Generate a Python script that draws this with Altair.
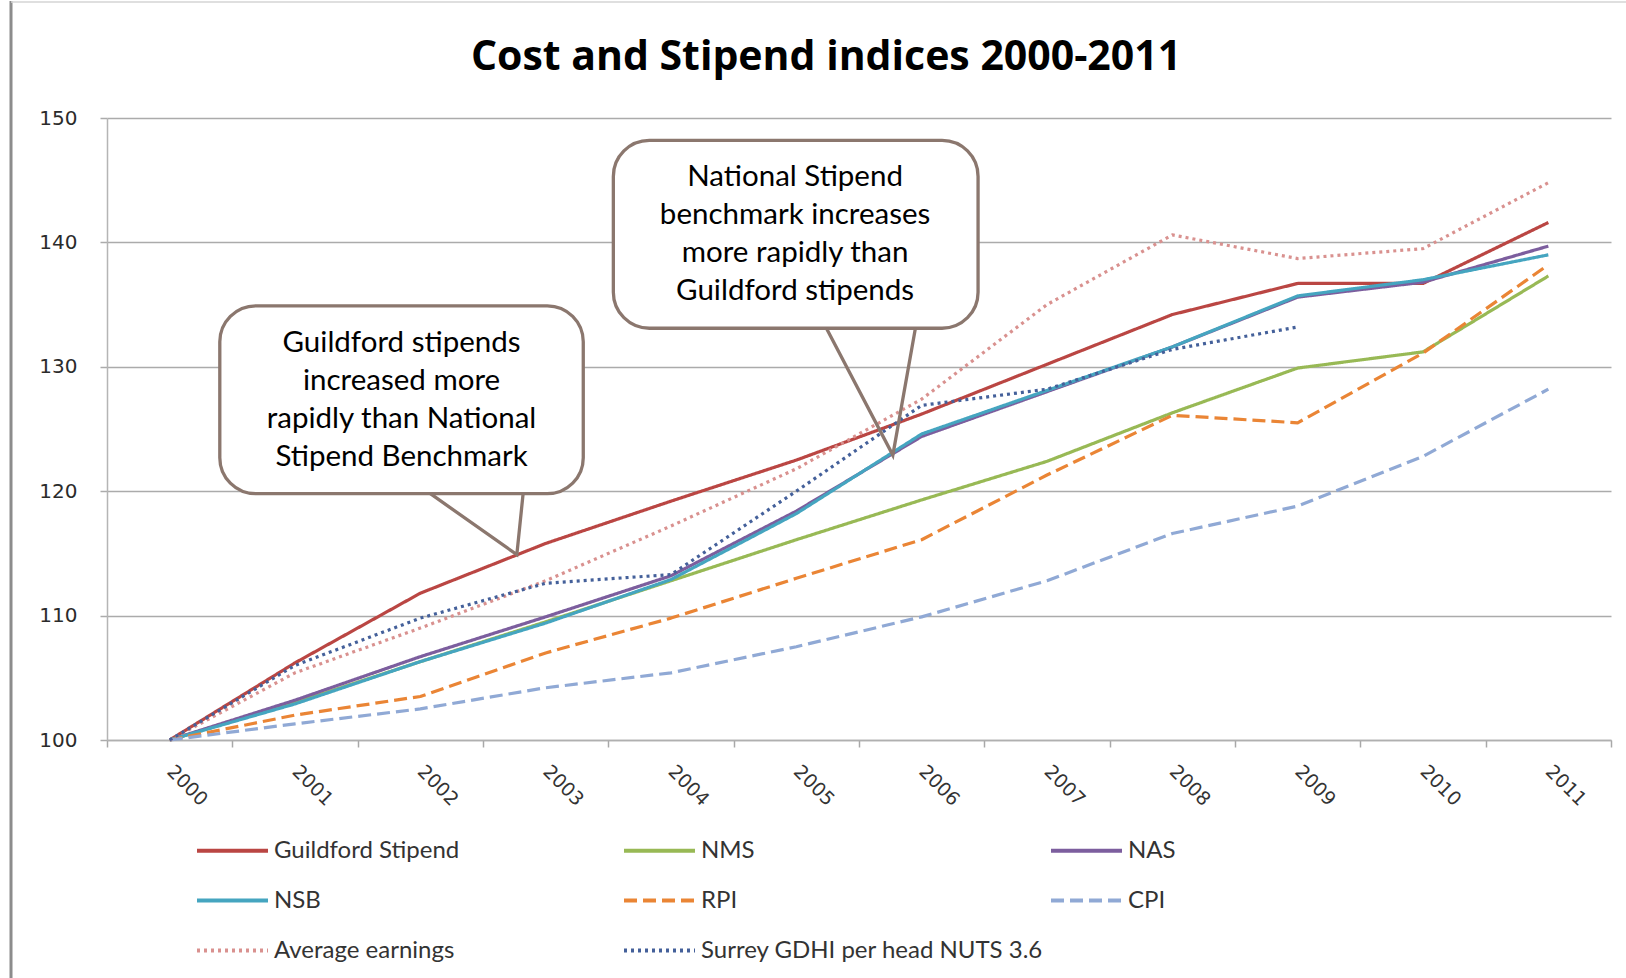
import altair as alt
import pandas as pd

# ---- data -----------------------------------------------------------------
years = [str(y) for y in range(2000, 2012)]

series_names = [
    "Guildford Stipend", "NMS", "NAS",
    "NSB", "RPI", "CPI",
    "Average earnings", "Surrey GDHI per head NUTS 3.6",
]

guildford_stipend = [100, 106.2, 111.8, 115.8, 119.2, 122.5, 126.2, 130.2, 134.2, 136.7, 136.7, 141.6]
nms = [100, 103.0, 106.3, 109.5, 112.8, 116.1, 119.3, 122.4, 126.3, 129.9, 131.2, 137.3]
nas = [100, 103.2, 106.7, 109.9, 113.2, 118.4, 124.4, 128.0, 131.6, 135.6, 136.8, 139.7]
nsb = [100, 102.9, 106.3, 109.4, 112.9, 118.2, 124.6, 128.1, 131.6, 135.7, 137.0, 139.0]
rpi = [100, 102.0, 103.5, 107.0, 109.8, 113.0, 116.1, 121.3, 126.1, 125.5, 131.1, 138.2]
cpi = [100, 101.3, 102.5, 104.2, 105.4, 107.5, 109.9, 112.8, 116.6, 118.8, 122.8, 128.2]
average_earnings = [100, 105.4, 109.0, 112.8, 117.2, 121.8, 127.4, 135.0, 140.6, 138.7, 139.5, 144.8]
surrey_gdhi = [100, 106.0, 109.8, 112.6, 113.3, 120.0, 126.9, 128.2, 131.4, 133.2]  # 2000-2009 only

series_values = [guildford_stipend, nms, nas, nsb, rpi, cpi, average_earnings, surrey_gdhi]

y_ticks = [100, 110, 120, 130, 140, 150]

callout_texts = [
    ["Guildford stipends", "increased more", "rapidly than National", "Stipend Benchmark"],
    ["National Stipend", "benchmark increases", "more rapidly than", "Guildford stipends"],
]

# ---- styling ----------------------------------------------------------------
series_colors = ["#BA4643", "#98B955", "#7C5E9E", "#45A5C0",
                 "#EA8535", "#90A9D5", "#D9918F", "#44609A"]
series_dashes = [[1, 0], [1, 0], [1, 0], [1, 0],
                 [13, 6], [13, 6], [3, 4], [3, 4]]

W, H = 1504, 622
PAD = {"left": 107, "top": 118, "right": 15, "bottom": 238}
CALLOUT_STROKE = "#8B776E"
AXIS_FONT = "DejaVu Sans"
TEXT_COLOR = "#333333"
CALLOUT_LINE_HEIGHT = 38

rows = []
for name, vals in zip(series_names, series_values):
    for yr, v in zip(years, vals):
        rows.append({"year": yr, "series": name, "value": v})
df = pd.DataFrame(rows)

legend = alt.Legend(
    title=None, orient="none", legendX=88, legendY=695,
    direction="horizontal", columns=3, gridAlign="all",
    columnPadding=-1, rowPadding=0,
    symbolType="stroke", symbolSize=5041, symbolStrokeWidth=4,
    labelFont="Lato", labelFontSize=24, labelColor=TEXT_COLOR,
    labelLimit=600, labelOffset=4, padding=0,
)

y_scale = alt.Scale(domain=[100, 150], nice=False, zero=False)

lines = alt.Chart(df).mark_line(strokeWidth=3.2, strokeCap="butt", strokeJoin="round").encode(
    x=alt.X(
        "year:O", sort=years,
        scale=alt.Scale(type="band", domain=years, paddingInner=0, paddingOuter=0),
        axis=alt.Axis(
            title=None, labelAngle=45, labelAlign="left", labelBaseline="middle",
            labelFont=AXIS_FONT, labelFontSize=19, labelColor=TEXT_COLOR,
            labelPadding=21, tickBand="extent", tickSize=7, tickColor="#a8a8a8",
            tickWidth=1.5, domainColor="#b0b0b0", domainWidth=1.5, grid=False,
            labelOverlap=False,
        ),
    ),
    y=alt.Y(
        "value:Q", scale=y_scale,
        axis=alt.Axis(
            title=None, values=y_ticks, grid=True, gridColor="#ababab", gridWidth=1.5,
            tickSize=7, tickColor="#ababab", tickWidth=1.5,
            domainColor="#b5b5b5", domainWidth=1.5,
            labelFont=AXIS_FONT, labelFontSize=20, labelColor="#2b2b2b", labelPadding=23,
        ),
    ),
    color=alt.Color("series:N", sort=series_names,
                    scale=alt.Scale(domain=series_names, range=series_colors), legend=legend),
    strokeDash=alt.StrokeDash("series:N", sort=series_names,
                              scale=alt.Scale(domain=series_names, range=series_dashes), legend=legend),
)

# ---- callouts (positions in category-index / index-value units) -------------
idx_scale = alt.Scale(domain=[-0.5, 11.5], nice=False, zero=False)

boxes = pd.DataFrame({
    "x0": [0.40, 3.54], "x1": [3.30, 6.45],
    "y0": [119.8, 133.1], "y1": [134.9, 148.2],
})
tails = pd.DataFrame({
    "tail": [1, 1, 1, 2, 2, 2],
    "k": [0, 1, 2, 0, 1, 2],
    "x": [2.08, 2.77, 2.82, 5.24, 5.77, 5.95],
    "y_edge": [119.8, 114.9, 119.8, 133.1, 122.9, 133.1],
    "y_cover": [120.15, 120.15, 120.15, 133.45, 133.45, 133.45],
})
labels = pd.DataFrame({
    "x": [1.85, 4.99], "y": [127.35, 140.65], "text": callout_texts,
})

box_marks = alt.Chart(boxes).mark_rect(
    cornerRadius=36, fill="white", stroke=CALLOUT_STROKE, strokeWidth=3.3
).encode(
    x=alt.X("x0:Q", scale=idx_scale, axis=None), x2="x1",
    y=alt.Y("y0:Q", scale=y_scale, axis=None), y2="y1",
)
tail_fill = alt.Chart(tails).mark_area(fill="white", opacity=1).encode(
    x=alt.X("x:Q", scale=idx_scale, axis=None),
    y=alt.Y("y_cover:Q", scale=y_scale, axis=None), y2="y_edge",
    detail="tail:N", order="k:Q",
)
tail_edge = alt.Chart(tails).mark_line(
    color=CALLOUT_STROKE, strokeWidth=3.3, strokeJoin="miter"
).encode(
    x=alt.X("x:Q", scale=idx_scale, axis=None),
    y=alt.Y("y_edge:Q", scale=y_scale, axis=None),
    detail="tail:N", order="k:Q",
)
# four-line block centred on the box: shift the first line up by 1.5 lines
callout_text = alt.Chart(labels).mark_text(
    font="Lato", fontSize=29.5, lineHeight=CALLOUT_LINE_HEIGHT, color="black",
    align="center", baseline="middle", dy=-1.5 * CALLOUT_LINE_HEIGHT,
).encode(
    x=alt.X("x:Q", scale=idx_scale, axis=None),
    y=alt.Y("y:Q", scale=y_scale, axis=None),
    text="text",
)

# ---- title and chart-area frame --------------------------------------------
one = pd.DataFrame({"t": ["Cost and Stipend indices 2000-2011"]})
title = alt.Chart(one).mark_text(
    font="Open Sans", fontSize=41, fontWeight="bold", color="black",
    align="center", baseline="alphabetic",
).encode(text="t:N", x=alt.value(719), y=alt.value(-48))
frame_left = alt.Chart(one).mark_rule(color="#8c8c8c", strokeWidth=3).encode(
    x=alt.value(-96), y=alt.value(-117), y2=alt.value(860))
frame_top = alt.Chart(one).mark_rule(color="#d4d4d4", strokeWidth=1.5).encode(
    x=alt.value(-96), x2=alt.value(W + 15), y=alt.value(-116))

annotations = alt.layer(box_marks, tail_fill, tail_edge, callout_text, title, frame_left, frame_top)

chart = alt.layer(lines, annotations).resolve_scale(
    x="independent", y="independent"
).properties(
    width=W, height=H, padding=PAD, autosize=alt.AutoSizeParams(type="none"),
    background="white",
).configure_view(stroke=None)

chart.save("out.html", embed_options={"renderer": "svg", "actions": False})
